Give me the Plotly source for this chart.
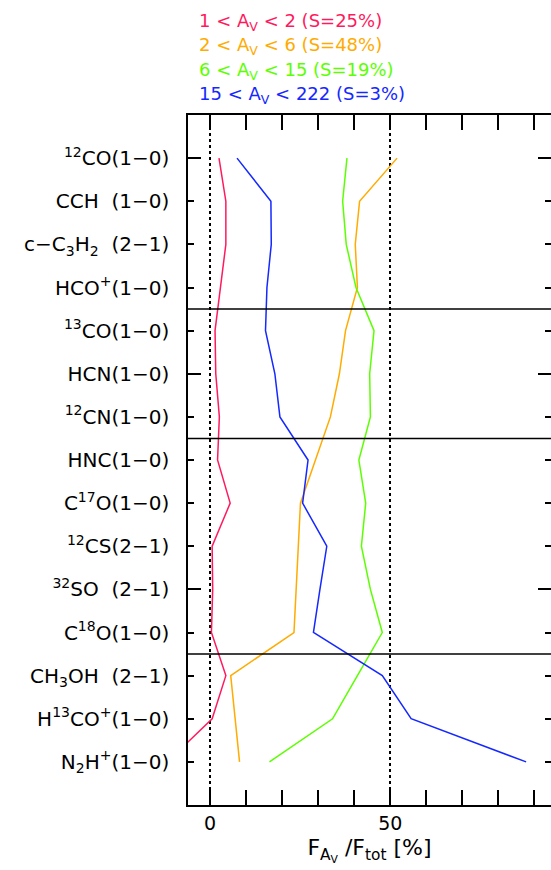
import plotly.graph_objects as go

lines_labels = [
    "<sup>12</sup>CO(1−0)",
    "CCH  (1−0)",
    "c−C<sub>3</sub>H<sub>2</sub>  (2−1)",
    "HCO<sup>+</sup>(1−0)",
    "<sup>13</sup>CO(1−0)",
    "HCN(1−0)",
    "<sup>12</sup>CN(1−0)",
    "HNC(1−0)",
    "C<sup>17</sup>O(1−0)",
    "<sup>12</sup>CS(2−1)",
    "<sup>32</sup>SO  (2−1)",
    "C<sup>18</sup>O(1−0)",
    "CH<sub>3</sub>OH  (2−1)",
    "H<sup>13</sup>CO<sup>+</sup>(1−0)",
    "N<sub>2</sub>H<sup>+</sup>(1−0)",
]
group_sizes = [4, 3, 5, 3]

av_1_2 = [2.5, 4.4, 4.4, 2.9, 1.4, 1.6, 2.6, 2.1, 5.6, 0.6, 0.75, 0.4, 4.4, 0.6, -11.8]
av_2_6 = [51.9, 41.5, 40.3, 40.9, 37.6, 35.9, 33.4, 29.3, 25.1, 24.5, 23.9, 23.3, 5.75, 7.0, 8.2]
av_6_15 = [38.0, 36.8, 37.8, 40.5, 45.5, 44.3, 44.5, 41.3, 43.2, 42.0, 44.5, 47.8, 40.9, 34.0, 16.5]
av_15_222 = [7.5, 16.9, 17.0, 15.8, 15.4, 18.0, 19.4, 27.2, 25.7, 32.4, 30.5, 28.7, 47.8, 55.8, 87.7]

series_names = [
    "1 < A<sub>V</sub> < 2 (S=25%)",
    "2 < A<sub>V</sub> < 6 (S=48%)",
    "6 < A<sub>V</sub> < 15 (S=19%)",
    "15 < A<sub>V</sub> < 222 (S=3%)",
]
series_values = [av_1_2, av_2_6, av_6_15, av_15_222]
colors = ["#ff1a5e", "#ffab00", "#5cff00", "#1428ff"]

rows = list(range(len(lines_labels)))
long_rows = [r for r in rows if r % 5 == 0]
FONT = "DejaVu Sans"

fig = go.Figure()
for name, vals, c in zip(series_names, series_values, colors):
    fig.add_trace(go.Scatter(x=vals, y=rows, mode="lines", name=name,
                             line=dict(color=c, width=1.5), showlegend=False))

# empty traces so the tick-only overlay axes are drawn
for ax in ["y2", "y3", "y4"]:
    fig.add_trace(go.Scatter(x=[], y=[], yaxis=ax, showlegend=False))

yr = [len(lines_labels), -1]
tick_common = dict(range=yr, ticks="inside", tickwidth=1.5, tickcolor="black",
                   showgrid=False, zeroline=False)

fig.update_layout(
    width=551, height=870,
    margin=dict(l=188, r=0, t=115, b=65),
    paper_bgcolor="white", plot_bgcolor="white",
    font=dict(family=FONT, size=20, color="black"),
    xaxis=dict(range=[-6.1, 94.6], tick0=0, dtick=50, ticks="inside", ticklen=15,
               tickwidth=1.5, tickcolor="black", showline=True, linecolor="black",
               linewidth=1.5, mirror="allticks", zeroline=False,
               showgrid=True, gridcolor="black", griddash="dot", gridwidth=1.5,
               tickfont=dict(size=19),
               minor=dict(dtick=10, tick0=0, ticks="inside", ticklen=7,
                          tickwidth=1.5, tickcolor="black", showgrid=False),
               title=dict(text="F<sub>A<sub>V</sub></sub> /F<sub>tot</sub> [%]",
                          font=dict(size=22), standoff=7)),
    yaxis=dict(tickvals=rows, ticktext=lines_labels, ticklen=6, showline=True,
               linecolor="black", linewidth=1.5, mirror=False,
               ticklabelstandoff=13, **tick_common),
    yaxis2=dict(overlaying="y", side="left", anchor="x", tickvals=long_rows,
                ticklen=13, showticklabels=False, showline=False, **tick_common),
    yaxis3=dict(overlaying="y", side="right", anchor="x", tickvals=rows,
                ticklen=6, showticklabels=False, showline=False, **tick_common),
    yaxis4=dict(overlaying="y", side="right", anchor="x", tickvals=long_rows,
                ticklen=13, showticklabels=False, showline=False, **tick_common),
)

# group separators
b = 0
for s in group_sizes[:-1]:
    b += s
    fig.add_shape(type="line", xref="paper", yref="y", x0=0, x1=1,
                  y0=b - 0.5, y1=b - 0.5, line=dict(color="black", width=1.5))

# legend text
for i, (name, c) in enumerate(zip(series_names, colors)):
    fig.add_annotation(xref="paper", yref="paper", x=0.025, y=1.135 - i * 0.0355,
                       xanchor="left", yanchor="middle", text=name, showarrow=False,
                       font=dict(family=FONT, size=18, color=c))

fig.write_html("out.html")
